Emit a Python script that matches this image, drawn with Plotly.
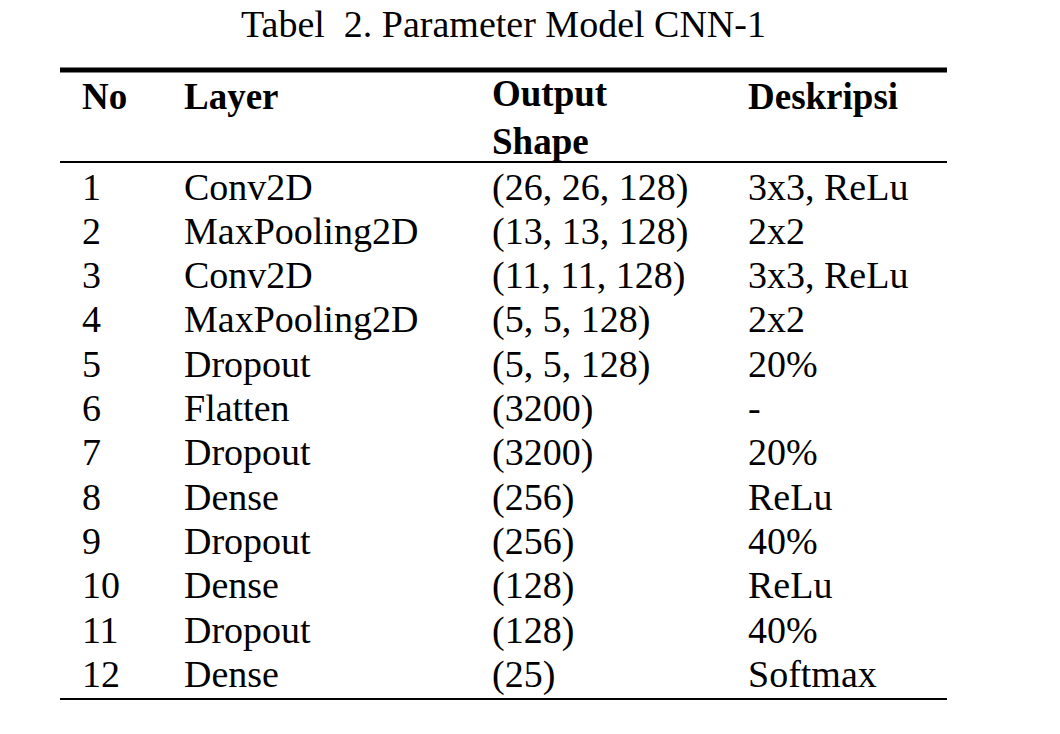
import plotly.graph_objects as go

title = "Tabel  2. Parameter Model CNN-1"
headers = ["No", "Layer", "Output<br>Shape", "Deskripsi"]
no = ["1", "2", "3", "4", "5", "6", "7", "8", "9", "10", "11", "12"]
layer = ["Conv2D", "MaxPooling2D", "Conv2D", "MaxPooling2D", "Dropout", "Flatten",
         "Dropout", "Dense", "Dropout", "Dense", "Dropout", "Dense"]
output_shape = ["(26, 26, 128)", "(13, 13, 128)", "(11, 11, 128)", "(5, 5, 128)",
                "(5, 5, 128)", "(3200)", "(3200)", "(256)", "(256)", "(128)",
                "(128)", "(25)"]
deskripsi = ["3x3, ReLu", "2x2", "3x3, ReLu", "2x2", "20%", "-", "20%", "ReLu",
             "40%", "ReLu", "40%", "Softmax"]

# page has an 8px body margin, so coordinates are offset by -8
off = 8
col_x = [82 - off, 184 - off, 492 - off, 748 - off]
row_y0, row_dy = 190 - off, 44.3
font = "Liberation Serif, Times New Roman, serif"

fig = go.Figure()
for cx, vals in zip(col_x, [no, layer, output_shape, deskripsi]):
    fig.add_trace(go.Scatter(
        x=[cx] * len(vals), y=[row_y0 + i * row_dy for i in range(len(vals))],
        text=vals, mode="text", textposition="middle right",
        textfont=dict(family=font, size=38, color="black"),
        hoverinfo="skip", showlegend=False))

fig.add_trace(go.Scatter(
    x=col_x, y=[100 - off, 100 - off, 121 - off, 100 - off],
    text=["<b>%s</b>" % h for h in headers],
    mode="text", textposition="middle right",
    textfont=dict(family=font, size=37, color="black"),
    hoverinfo="skip", showlegend=False))

fig.add_annotation(x=503 - off, y=24 - off, text=title, showarrow=False,
                   font=dict(family=font, size=38, color="black"))

for y, w in [(70, 5), (162, 2), (699, 2)]:
    fig.add_shape(type="line", x0=60 - off, x1=947 - off, y0=y - off, y1=y - off,
                  line=dict(color="black", width=w))

fig.update_xaxes(range=[0, 1060], visible=False)
fig.update_yaxes(range=[734, 0], visible=False)
fig.update_layout(width=1060, height=734, margin=dict(l=0, r=0, t=0, b=0),
                  plot_bgcolor="white", paper_bgcolor="white")
fig.write_html("out.html")
